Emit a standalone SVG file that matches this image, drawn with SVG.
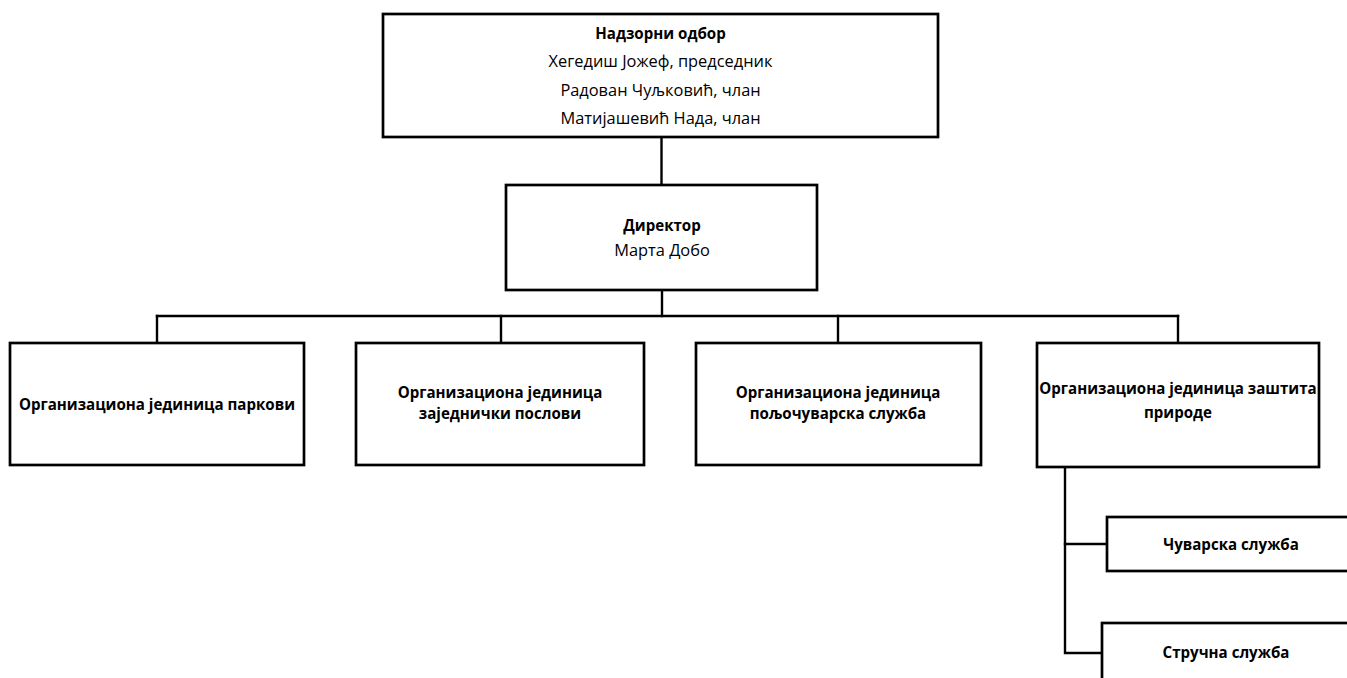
<svg xmlns="http://www.w3.org/2000/svg" width="1347" height="678" viewBox="0 0 1347 678">
<style>
  .box { fill: #ffffff; stroke: #000000; stroke-width: 2.7; }
  .conn { fill: none; stroke: #000000; stroke-width: 2.4; stroke-linecap: square; }
  text { font-family: "Open Sans", "Noto Sans", "DejaVu Sans", sans-serif; font-size: 16.4px; fill: #000000; text-anchor: middle; }
  .b { font-weight: bold; font-size: 15.1px; }
</style>
<rect width="1347" height="678" fill="#ffffff"/>
<g id="connectors">
  <path class="conn" d="M661.5,137 V184"/>
  <path class="conn" d="M662,290 V316"/>
  <path class="conn" d="M157,316 H1178"/>
  <path class="conn" d="M157,316 V343"/>
  <path class="conn" d="M501,316 V343"/>
  <path class="conn" d="M838,316 V343"/>
  <path class="conn" d="M1178,316 V343"/>
  <path class="conn" d="M1065,467 V653 H1102"/>
  <path class="conn" d="M1065,544 H1107"/>
</g>
<g id="nadzorni-odbor">
  <rect class="box" x="383" y="14" width="555" height="123"/>
  <text class="b" x="660.5" y="39">Надзорни одбор</text>
  <text x="660.5" y="67">Хегедиш Јожеф, председник</text>
  <text x="660.5" y="96">Радован Чуљковић, члан</text>
  <text x="660.5" y="124">Матијашевић Нада, члан</text>
</g>
<g id="direktor">
  <rect class="box" x="506" y="185" width="311" height="105"/>
  <text class="b" x="662" y="231">Директор</text>
  <text x="662" y="256">Марта Добо</text>
</g>
<g id="oj-parkovi">
  <rect class="box" x="10" y="343" width="294" height="122"/>
  <text class="b" x="157" y="410">Организациона јединица паркови</text>
</g>
<g id="oj-zajednicki">
  <rect class="box" x="356" y="343" width="288" height="122"/>
  <text class="b" x="500" y="398">Организациона јединица</text>
  <text class="b" x="500" y="419">заједнички послови</text>
</g>
<g id="oj-poljocuvarska">
  <rect class="box" x="696" y="343" width="285" height="122"/>
  <text class="b" x="838" y="398">Организациона јединица</text>
  <text class="b" x="838" y="419">пољочуварска служба</text>
</g>
<g id="oj-zastita">
  <rect class="box" x="1037" y="343" width="282" height="124"/>
  <text class="b" x="1178" y="394">Организациона јединица заштита</text>
  <text class="b" x="1178" y="418">природе</text>
</g>
<g id="cuvarska">
  <rect class="box" x="1107" y="517" width="248" height="54"/>
  <text class="b" x="1231" y="550">Чуварска служба</text>
</g>
<g id="strucna">
  <rect class="box" x="1102" y="623" width="248" height="70"/>
  <text class="b" x="1226" y="658">Стручна служба</text>
</g>
</svg>
